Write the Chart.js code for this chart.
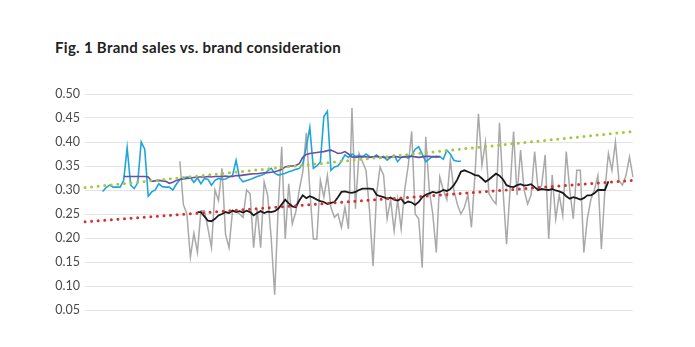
<!DOCTYPE html>
<html>
<head>
<meta charset="utf-8">
<script src="https://cdn.jsdelivr.net/npm/chart.js@4.4.0/dist/chart.umd.min.js"></script>
<style>
  body { margin: 0; background: #fff; }
  #wrap { position: relative; width: 695px; height: 347px; }
  #title {
    position: absolute; left: 55px; top: 38px; margin: 0;
    font: bold 15px Lato, "Open Sans", sans-serif; letter-spacing: 0.3px; color: #222;
  }
  canvas { position: absolute; left: 0; top: 0; }
</style>
</head>
<body>
<div id="wrap">
  <h1 id="title">Fig. 1 Brand sales vs. brand consideration</h1>
  <canvas id="chart" width="695" height="347"></canvas>
</div>
<script>
// 157 periods along the x axis, no labels shown
var periodCount = 157;
var yTicks = [0.05, 0.10, 0.15, 0.20, 0.25, 0.30, 0.35, 0.40, 0.45, 0.50];

// brand consideration (cyan), starts at period 5
var considerationStart = 5;
var consideration = [0.297,0.305,0.31,0.306,0.306,0.306,0.32,0.388,0.31,0.303,0.315,0.40,0.385,0.287,0.296,0.30,0.313,0.307,0.306,0.306,0.30,0.312,0.322,0.325,0.327,
  0.326,0.316,0.325,0.313,0.324,0.322,0.31,0.32,0.324,0.322,0.323,0.327,0.33,0.362,0.325,0.317,0.32,0.322,0.325,0.328,0.33,0.333,0.34,0.345,
  0.335,0.331,0.333,0.335,0.338,0.34,0.343,0.345,0.355,0.39,0.43,
  0.345,0.35,0.358,0.453,0.464,0.341,0.348,0.35,0.36,0.373,
  0.368,0.375,0.37,0.372,0.368,0.375,0.37,0.368,0.373,0.366,0.37,0.362,0.368,0.372,0.359,0.368,0.37,0.366,0.372,0.385,0.39,0.375,0.359,0.365,0.37,0.368,0.37,0.364,0.383,0.375,0.362,0.36,0.36];

// consideration, smoothed (purple), starts at period 11
var considerationAvgStart = 11;
var considerationAvg = [0.328,0.328,0.328,0.328,0.328,0.328,0.328,0.327,
  0.318,0.319,0.32,0.319,0.318,0.314,0.316,0.32,0.322,0.323,0.324,0.325,0.326,
  0.327,0.327,0.327,0.328,0.327,0.328,0.328,0.328,0.329,0.328,0.328,0.33,0.33,0.331,
  0.332,0.333,0.334,0.334,0.335,0.336,0.336,0.337,0.338,0.34,0.343,0.348,0.35,0.35,0.351,0.355,
  0.368,0.374,0.376,0.377,0.378,0.379,0.38,0.382,0.383,0.38,0.376,0.377,0.38,0.375,
  0.369,0.368,0.369,0.37,0.369,0.368,0.369,0.37,0.369,0.368,0.368,0.369,0.37,0.369,0.368,0.369,0.37,0.37,0.369,0.368,0.369,0.37,0.37,0.369,0.37,0.369];

// brand sales (grey), starts at period 27
var salesStart = 27;
var sales = [0.36,0.27,0.25,0.16,0.21,0.17,0.257,0.257,0.22,0.18,
  0.30,0.278,0.345,0.208,0.18,0.257,0.255,0.25,0.243,0.30,
  0.292,0.18,0.26,0.18,0.317,0.289,0.20,0.082,0.264,0.39,
  0.198,0.313,0.229,0.254,0.30,0.338,0.419,0.30,0.198,0.198,
  0.32,0.285,0.33,0.264,0.243,0.25,0.222,0.264,0.219,0.471,
  0.261,0.376,0.359,0.341,0.257,0.142,0.292,0.348,0.331,0.24,
  0.28,0.215,0.28,0.219,0.30,0.35,0.422,0.25,0.24,0.138,
  0.411,0.30,0.25,0.17,0.327,0.30,0.28,0.362,0.30,0.27,
  0.25,0.264,0.29,0.222,0.33,0.459,0.352,0.40,0.292,0.28,
  0.271,0.44,0.30,0.187,0.30,0.422,0.289,0.383,0.30,0.271,
  0.29,0.38,0.30,0.31,0.373,0.198,0.331,0.24,0.29,0.247,
  0.38,0.30,0.24,0.341,0.341,0.17,0.24,0.28,0.30,0.33,
  0.177,0.30,0.376,0.341,0.40,0.32,0.31,0.33,0.369,0.327];

// sales, smoothed (black), starts at period 32
var salesAvgStart = 32;
var salesAvg = [0.254,0.254,0.245,0.236,0.235,0.24,0.247,0.25,0.254,0.252,
  0.257,0.254,0.256,0.253,0.257,0.254,0.247,0.252,0.256,0.252,
  0.255,0.254,0.256,0.261,0.27,0.28,0.272,0.266,0.264,0.278,
  0.289,0.283,0.287,0.284,0.28,0.277,0.275,0.271,0.273,0.275,
  0.285,0.296,0.297,0.295,0.294,0.296,0.30,0.303,0.303,0.303,
  0.302,0.29,0.287,0.285,0.282,0.284,0.28,0.278,0.282,0.272,
  0.276,0.274,0.269,0.275,0.285,0.29,0.293,0.296,0.294,0.296,
  0.30,0.298,0.302,0.31,0.322,0.338,0.341,0.338,0.335,0.331,
  0.33,0.324,0.317,0.322,0.328,0.334,0.33,0.322,0.31,0.307,
  0.306,0.31,0.312,0.309,0.31,0.312,0.306,0.30,0.302,0.301,
  0.30,0.302,0.299,0.297,0.294,0.287,0.282,0.285,0.283,0.28,
  0.283,0.289,0.289,0.293,0.30,0.30,0.30,0.318];

// linear trends: value at first and last period
var considerationTrend = [0.305, 0.422];
var salesTrend = [0.234, 0.32];

function place(start, values) {
  var arr = new Array(periodCount).fill(null);
  values.forEach(function(v, i) { arr[start + i] = v; });
  return arr;
}

function trendLine(ends) {
  var arr = new Array(periodCount).fill(null);
  arr[0] = ends[0];
  arr[periodCount - 1] = ends[1];
  return arr;
}

var labels = [];
for (var i = 0; i < periodCount; i++) labels.push('');

var dotted = {
  borderWidth: 3,
  borderDash: [0, 6.6],
  borderCapStyle: 'round',
  spanGaps: true,
  pointRadius: 0,
  fill: false
};

var ctx = document.getElementById('chart').getContext('2d');
new Chart(ctx, {
  type: 'line',
  data: {
    labels: labels,
    datasets: [
      Object.assign({ data: trendLine(considerationTrend), borderColor: '#a6c83c', order: 1 }, dotted),
      Object.assign({ data: trendLine(salesTrend), borderColor: '#d63030', order: 1 }, dotted),
      { data: place(salesAvgStart, salesAvg), borderColor: '#1a1a1a', borderWidth: 1.8, pointRadius: 0, order: 2 },
      { data: place(considerationAvgStart, considerationAvg), borderColor: '#6a4fa3', borderWidth: 1.6, pointRadius: 0, order: 3 },
      { data: place(considerationStart, consideration), borderColor: '#1ea6dc', borderWidth: 1.6, pointRadius: 0, order: 4 },
      { data: place(salesStart, sales), borderColor: '#a9a9a9', borderWidth: 1.5, pointRadius: 0, order: 5 }
    ]
  },
  options: {
    responsive: false,
    animation: false,
    devicePixelRatio: 1,
    layout: {
      padding: { top: 94, right: 62, bottom: 37, left: 0 }
    },
    scales: {
      x: {
        display: false,
        offset: false
      },
      y: {
        min: 0.05,
        max: 0.50,
        afterFit: function(scale) { scale.width = 85; },
        afterBuildTicks: function(scale) {
          scale.ticks = yTicks.map(function(v) { return { value: v }; });
        },
        border: { display: false },
        grid: { color: '#e4e4e4', lineWidth: 1, drawTicks: false },
        ticks: {
          padding: 5,
          color: '#4a4a4a',
          font: { family: 'Lato', size: 12.5 },
          callback: function(value) { return value.toFixed(2); }
        }
      }
    },
    plugins: {
      legend: { display: false },
      tooltip: { enabled: false }
    }
  }
});
</script>
</body>
</html>
